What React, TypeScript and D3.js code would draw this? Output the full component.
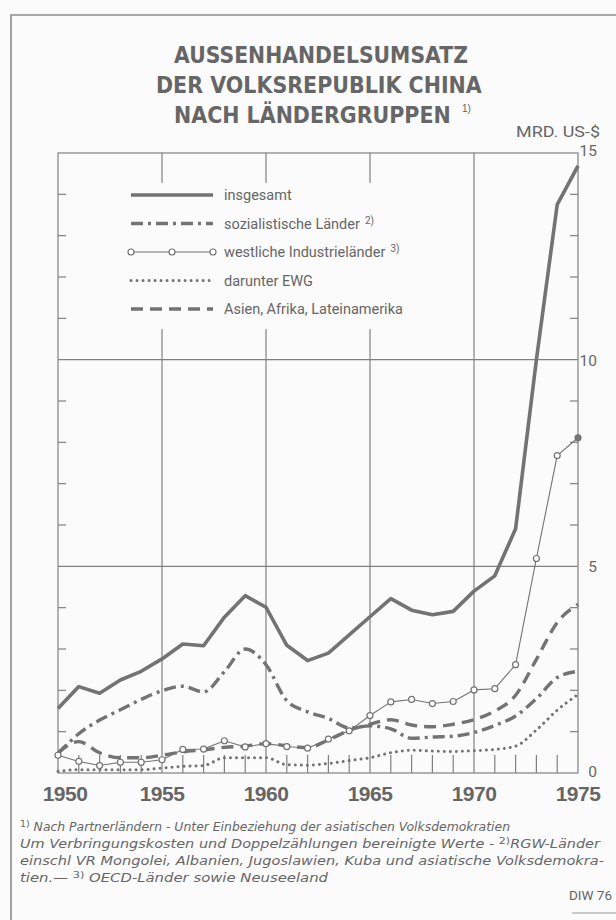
import React, { useRef, useEffect } from 'react';
import * as d3 from 'd3';

// Außenhandelsumsatz der VR China, Mrd. US-$
const years = [
  1950, 1951, 1952, 1953, 1954, 1955, 1956, 1957, 1958, 1959, 1960, 1961, 1962,
  1963, 1964, 1965, 1966, 1967, 1968, 1969, 1970, 1971, 1972, 1973, 1974, 1975,
];
const insgesamt = [
  1.56, 2.09, 1.93, 2.25, 2.46, 2.76, 3.12, 3.08, 3.77, 4.29, 4.01, 3.09, 2.72,
  2.9, 3.34, 3.78, 4.22, 3.94, 3.83, 3.91, 4.4, 4.77, 5.91, 10.0, 13.75, 14.69,
];
const sozialistisch = [
  0.47, 0.95, 1.28, 1.53, 1.78, 1.99, 2.1, 1.96, 2.45, 3.0, 2.62, 1.75, 1.48,
  1.32, 1.09, 1.14, 1.07, 0.84, 0.87, 0.89, 0.98, 1.15, 1.38, 1.8, 2.31, 2.46,
];
const westlich = [
  0.43, 0.28, 0.18, 0.26, 0.26, 0.32, 0.57, 0.58, 0.78, 0.63, 0.71, 0.64, 0.6,
  0.82, 1.02, 1.39, 1.72, 1.78, 1.68, 1.73, 2.01, 2.04, 2.62, 5.19, 7.68, 8.11,
];
const ewg = [
  0.04, 0.08, 0.08, 0.08, 0.08, 0.12, 0.16, 0.18, 0.37, 0.37, 0.37, 0.2, 0.19,
  0.23, 0.3, 0.37, 0.49, 0.55, 0.53, 0.52, 0.54, 0.57, 0.65, 1.04, 1.52, 1.9,
];
const asienAfrikaLatein = [
  0.49, 0.76, 0.49, 0.37, 0.37, 0.43, 0.51, 0.56, 0.62, 0.65, 0.71, 0.66, 0.61,
  0.8, 1.03, 1.18, 1.29, 1.16, 1.12, 1.18, 1.29, 1.5, 1.88, 2.75, 3.64, 4.08,
];

const yearLabels = [1950, 1955, 1960, 1965, 1970, 1975];
const valueLabels = [0, 5, 10, 15];
const gridValues = [5, 10];
const titleLines = ['AUSSENHANDELSUMSATZ', 'DER VOLKSREPUBLIK CHINA', 'NACH LÄNDERGRUPPEN'];
const legendLabels = [
  { text: 'insgesamt', sup: '' },
  { text: 'sozialistische Länder', sup: '2)' },
  { text: 'westliche Industrieländer', sup: '3)' },
  { text: 'darunter EWG', sup: '' },
  { text: 'Asien, Afrika, Lateinamerika', sup: '' },
];

const W = 616;
const H = 920;
const BG = '#fbfbfb';
const INK = '#737373';
const TEXT = '#666666';

type TextSel = d3.Selection<SVGTextElement, unknown, null, undefined>;

const App: React.FC = () => {
  const svgRef = useRef<SVGSVGElement | null>(null);

  useEffect(() => {
    const svg = d3.select(svgRef.current!);
    svg.selectAll('*').remove();

    const x = d3.scaleLinear().domain([1950, 1975]).range([58, 578]);
    const y = d3.scaleLinear().domain([0, 15]).range([773, 153]);

    svg.append('rect').attr('width', W).attr('height', H).attr('fill', BG);

    // outer border of the page
    svg.append('path')
      .attr('d', `M11,${H} V15 H${W}`)
      .attr('fill', 'none')
      .attr('stroke', '#8a8a8a')
      .attr('stroke-width', 1.6);

    // title: each line squeezed to the width it has in the reference
    const title = svg.append('g')
      .attr('fill', TEXT)
      .attr('font-family', 'DejaVu Sans, sans-serif')
      .attr('font-weight', 700)
      .attr('font-size', 22.5);
    const titleLeft = [174, 156, 174];
    const titleWidths = [294, 326, 277];
    titleLines.forEach((t, i) => {
      const tt = title.append('text').attr('x', 0).attr('y', 0).text(t);
      const natural = (tt.node() as SVGTextElement).getComputedTextLength() || titleWidths[i];
      tt.attr('transform', `translate(${titleLeft[i]},${63 + i * 30}) scale(${titleWidths[i] / natural},1)`);
    });
    svg.append('text')
      .attr('x', 462).attr('y', 112)
      .attr('fill', TEXT)
      .attr('font-family', 'Liberation Sans, sans-serif')
      .attr('font-size', 10)
      .text('1)');

    svg.append('text')
      .attr('x', 600).attr('y', 137)
      .attr('text-anchor', 'end')
      .attr('fill', TEXT)
      .attr('font-family', 'Roboto, sans-serif')
      .attr('font-size', 15)
      .attr('textLength', 84)
      .attr('lengthAdjust', 'spacingAndGlyphs')
      .text('MRD. US-$');

    // grid, frame and ticks
    const grid = svg.append('g')
      .attr('stroke', '#808080')
      .attr('stroke-width', 1.2)
      .attr('fill', 'none');
    grid.selectAll('line.vg')
      .data([1955, 1960, 1965, 1970])
      .join('line')
      .attr('x1', (d) => x(d)).attr('x2', (d) => x(d))
      .attr('y1', y(0)).attr('y2', y(15));
    grid.selectAll('line.hg')
      .data(gridValues)
      .join('line')
      .attr('x1', x(1950)).attr('x2', x(1975))
      .attr('y1', (d) => y(d)).attr('y2', (d) => y(d));
    grid.append('rect')
      .attr('x', x(1950)).attr('y', y(15))
      .attr('width', x(1975) - x(1950))
      .attr('height', y(0) - y(15));

    const minor = d3.range(1, 15).filter((v) => v % 5 !== 0);
    grid.selectAll('line.lt')
      .data(minor)
      .join('line')
      .attr('x1', x(1950)).attr('x2', x(1950) + 8)
      .attr('y1', (d) => y(d)).attr('y2', (d) => y(d));
    grid.selectAll('line.rt')
      .data(minor)
      .join('line')
      .attr('x1', x(1975) - 8).attr('x2', x(1975))
      .attr('y1', (d) => y(d)).attr('y2', (d) => y(d));
    grid.selectAll('line.bt')
      .data(years.filter((yr) => yr % 5 !== 0))
      .join('line')
      .attr('x1', (d) => x(d)).attr('x2', (d) => x(d))
      .attr('y1', y(0)).attr('y2', y(0) - 18);

    // legend background hides the grid behind it
    svg.append('rect')
      .attr('x', 67).attr('y', 183)
      .attr('width', 396).attr('height', 146)
      .attr('fill', BG);

    const line = d3.line<number>()
      .x((_, i) => x(years[i]))
      .y((d) => y(d));
    const smooth = d3.line<number>()
      .x((_, i) => x(years[i]))
      .y((d) => y(d))
      .curve(d3.curveMonotoneX);

    const series = [
      { data: ewg, gen: smooth, width: 3, dash: '0.01 6', cap: 'round' },
      { data: asienAfrikaLatein, gen: smooth, width: 3.4, dash: '12 7', cap: 'butt' },
      { data: sozialistisch, gen: smooth, width: 3.4, dash: '12 5 3 5', cap: 'butt' },
      { data: westlich, gen: line, width: 1.1, dash: '', cap: 'butt' },
      { data: insgesamt, gen: line, width: 3.6, dash: '', cap: 'butt' },
    ];
    const lines = svg.append('g').attr('fill', 'none').attr('stroke', INK);
    series.forEach((s) => {
      lines.append('path')
        .attr('d', s.gen(s.data))
        .attr('stroke-width', s.width)
        .attr('stroke-dasharray', s.dash || null)
        .attr('stroke-linecap', s.cap)
        .attr('stroke-linejoin', 'round');
    });
    svg.append('g')
      .selectAll('circle')
      .data(westlich)
      .join('circle')
      .attr('cx', (_, i) => x(years[i]))
      .attr('cy', (d) => y(d))
      .attr('r', 3)
      .attr('fill', (_, i) => (i === westlich.length - 1 ? INK : '#ffffff'))
      .attr('stroke', INK)
      .attr('stroke-width', 1.2);

    // legend
    const lx0 = 131;
    const lx1 = 213;
    const rows = [195, 223.5, 252, 280.5, 309];
    const lg = svg.append('g').attr('fill', 'none').attr('stroke', INK);
    const sample = (i: number, width: number, dash: string, cap: string) =>
      lg.append('line')
        .attr('x1', lx0).attr('x2', lx1)
        .attr('y1', rows[i]).attr('y2', rows[i])
        .attr('stroke-width', width)
        .attr('stroke-dasharray', dash || null)
        .attr('stroke-linecap', cap);
    sample(0, 3.6, '', 'butt');
    sample(1, 3.4, '12 5 3 5', 'butt');
    sample(2, 1.1, '', 'butt');
    sample(3, 3, '0.01 6', 'round');
    sample(4, 3.4, '12 7', 'butt');
    [lx0, (lx0 + lx1) / 2, lx1].forEach((cx) => {
      lg.append('circle')
        .attr('cx', cx).attr('cy', rows[2]).attr('r', 3)
        .attr('fill', '#ffffff').attr('stroke-width', 1.2);
    });
    legendLabels.forEach((l, i) => {
      const t = svg.append('text')
        .attr('x', 224).attr('y', rows[i] + 5)
        .attr('fill', TEXT)
        .attr('font-family', 'Roboto, sans-serif')
        .attr('font-size', 14.5)
        .text(l.text);
      if (l.sup) {
        t.append('tspan').attr('dx', 5).attr('dy', -5).attr('font-size', 10).text(l.sup);
      }
    });

    // axis labels
    svg.append('g')
      .selectAll('text')
      .data(yearLabels)
      .join('text')
      .attr('x', (d) => x(d) + (d === 1950 ? 7 : 0))
      .attr('y', 801)
      .attr('text-anchor', 'middle')
      .attr('fill', TEXT)
      .attr('font-family', 'Liberation Sans, sans-serif')
      .attr('font-weight', 700)
      .attr('font-size', 21)
      .attr('letter-spacing', -0.5)
      .text((d) => d);
    svg.append('g')
      .selectAll('text')
      .data(valueLabels)
      .join('text')
      .attr('x', 597)
      .attr('y', (d) => y(d) + (d === 15 ? 3 : d === 0 ? 4 : 6))
      .attr('text-anchor', 'end')
      .attr('fill', TEXT)
      .attr('font-family', 'Roboto, sans-serif')
      .attr('font-size', 15.5)
      .text((d) => d);

    // footnotes
    const fn = svg.append('g')
      .attr('fill', TEXT)
      .attr('font-family', 'DejaVu Sans, sans-serif')
      .attr('font-style', 'italic')
      .attr('font-size', 12.5);
    const sup = (t: TextSel, s: string) =>
      t.append('tspan').attr('dy', -4).attr('font-size', 9.5).attr('font-style', 'normal').text(s);
    const back = (t: TextSel, s: string) => t.append('tspan').attr('dy', 4).text(s);
    const note = (yy: number, len: number) =>
      fn.append('text')
        .attr('x', 20).attr('y', yy)
        .attr('textLength', len)
        .attr('lengthAdjust', 'spacingAndGlyphs');

    const f1 = note(831, 490);
    sup(f1, '1)');
    back(f1, ' Nach Partnerländern - Unter Einbeziehung der asiatischen Volksdemokratien');
    const f2 = note(848, 580);
    f2.append('tspan').text('Um Verbringungskosten und Doppelzählungen bereinigte Werte - ');
    sup(f2, '2)');
    back(f2, 'RGW-Länder');
    note(865, 584)
      .text('einschl  VR Mongolei, Albanien, Jugoslawien, Kuba und asiatische Volksdemokra-');
    const f4 = note(882, 308);
    f4.append('tspan').text('tien.— ');
    sup(f4, '3)');
    back(f4, ' OECD-Länder sowie Neuseeland');

    svg.append('text')
      .attr('x', 612).attr('y', 900)
      .attr('text-anchor', 'end')
      .attr('fill', TEXT)
      .attr('font-family', 'Roboto, sans-serif')
      .attr('font-size', 13.5)
      .text('DIW 76');
    svg.append('line')
      .attr('x1', 572).attr('x2', W)
      .attr('y1', 913).attr('y2', 913)
      .attr('stroke', '#9a9a9a')
      .attr('stroke-width', 1.2);
  }, []);

  return (
    <svg
      ref={svgRef}
      width={W}
      height={H}
      style={{ position: 'absolute', left: 0, top: 0 }}
    />
  );
};

export default App;
